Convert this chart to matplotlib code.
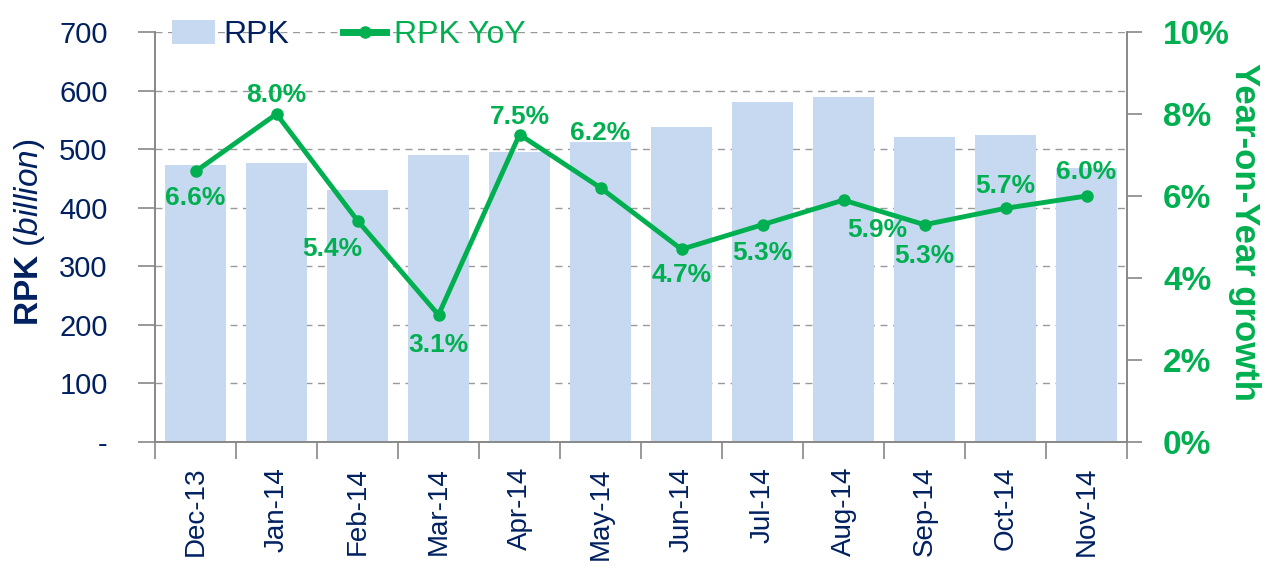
import matplotlib.pyplot as plt
from matplotlib.ticker import FuncFormatter, MultipleLocator

plt.rcParams['font.family'] = ['Liberation Sans', 'DejaVu Sans']
plt.rcParams['mathtext.fontset'] = 'custom'
plt.rcParams['mathtext.rm'] = 'Liberation Sans'
plt.rcParams['mathtext.it'] = 'Liberation Sans:italic'
plt.rcParams['mathtext.bf'] = 'Liberation Sans:bold'

# data
meses = ["Dec-13", "Jan-14", "Feb-14", "Mar-14", "Apr-14", "May-14",
         "Jun-14", "Jul-14", "Aug-14", "Sep-14", "Oct-14", "Nov-14"]
rpk = [473, 476, 430, 490, 495, 512, 537, 580, 589, 520, 524, 467]
rpk_yoy = [6.6, 8.0, 5.4, 3.1, 7.5, 6.2, 4.7, 5.3, 5.9, 5.3, 5.7, 6.0]

azul = "#002060"
verde = "#00B050"
barra = "#C6D9F0"
gris = "#888888"

fig = plt.figure(figsize=(12.65, 5.69), dpi=100)
ax = fig.add_axes([155/1265, 1-442/569, (1127-155)/1265, (442-32)/569])
ax2 = ax.twinx()

x = list(range(len(meses)))
ax.bar(x, rpk, width=0.76, color=barra, label="RPK", zorder=2)
ax.set_xlim(-0.5, len(meses)-0.5)
ax.set_ylim(0, 700)
ax.yaxis.set_major_locator(MultipleLocator(100))
ax.yaxis.set_major_formatter(FuncFormatter(lambda v, p: "-" if v == 0 else f"{v:.0f}"))
ax.grid(axis="y", color="#999999", linestyle=(0, (5, 4)), linewidth=1, zorder=0)
ax.set_axisbelow(True)

ax.set_xticks(x)
ax.set_xticklabels(meses, rotation=90, color=azul, fontsize=20)
ax.set_xticks([i - 0.5 for i in range(len(meses)+1)], minor=True)
ax.tick_params(axis="x", which="major", length=0, pad=18)
ax.tick_params(axis="x", which="minor", length=12, color=gris, width=1.2)
ax.tick_params(axis="y", labelsize=21, labelcolor=azul, length=12, color=gris,
               width=1.2, pad=22)
for lado in ["left", "bottom", "right"]:
    ax.spines[lado].set_color(gris)
    ax.spines[lado].set_linewidth(1.2)
    ax2.spines[lado].set_color(gris)
    ax2.spines[lado].set_linewidth(1.2)
ax.spines["top"].set_visible(False)
ax2.spines["top"].set_visible(False)

fig.text(30/1265, 1-232/569, r"$\mathbf{RPK}\ \mathit{(billion)}$", color=azul,
         fontsize=24, rotation=90, ha="center", va="center")

ax2.plot(x, rpk_yoy, color=verde, linewidth=3.5, marker="o", markersize=8,
         label="RPK YoY", zorder=3)
ax2.set_ylim(0, 10)
ax2.yaxis.set_major_locator(MultipleLocator(2))
ax2.yaxis.set_major_formatter(FuncFormatter(lambda v, p: f"{v:.0f}%"))
ax2.tick_params(axis="y", labelsize=24, labelcolor=verde, length=11, color=gris,
                width=1.2, pad=15)
for t in ax2.get_yticklabels():
    t.set_fontweight("bold")
fig.text(1245/1265, 1-232/569, "Year-on-Year growth", color=verde, fontsize=25,
         fontweight="bold", rotation=270, ha="center", va="center")

desplaz = [(0, -27), (0, 19), (-25, -28), (0, -30), (0, 18), (0, 55),
           (0, -26), (0, -28), (34, -30), (0, -31), (0, 22), (0, 24)]
for i, v in enumerate(rpk_yoy):
    ax2.annotate(f"{v:.1f}%", (i, v), xytext=desplaz[i], textcoords="offset pixels",
                 ha="center", va="center", color=verde, fontsize=19, fontweight="bold")

h1, l1 = ax.get_legend_handles_labels()
h2, l2 = ax2.get_legend_handles_labels()
leg = fig.legend(h1 + h2, l1 + l2, loc="center left", bbox_to_anchor=(172/1265, 1-35/569),
                 ncol=2, frameon=False, fontsize=23, handlelength=1.35, handleheight=0.75,
                 handletextpad=0.25, columnspacing=1.7, borderaxespad=0, borderpad=0)
leg.get_texts()[0].set_color(azul)
leg.get_texts()[1].set_color(verde)
leg.get_lines()[0].set_linewidth(5)

plt.savefig("out.png", dpi=100)
